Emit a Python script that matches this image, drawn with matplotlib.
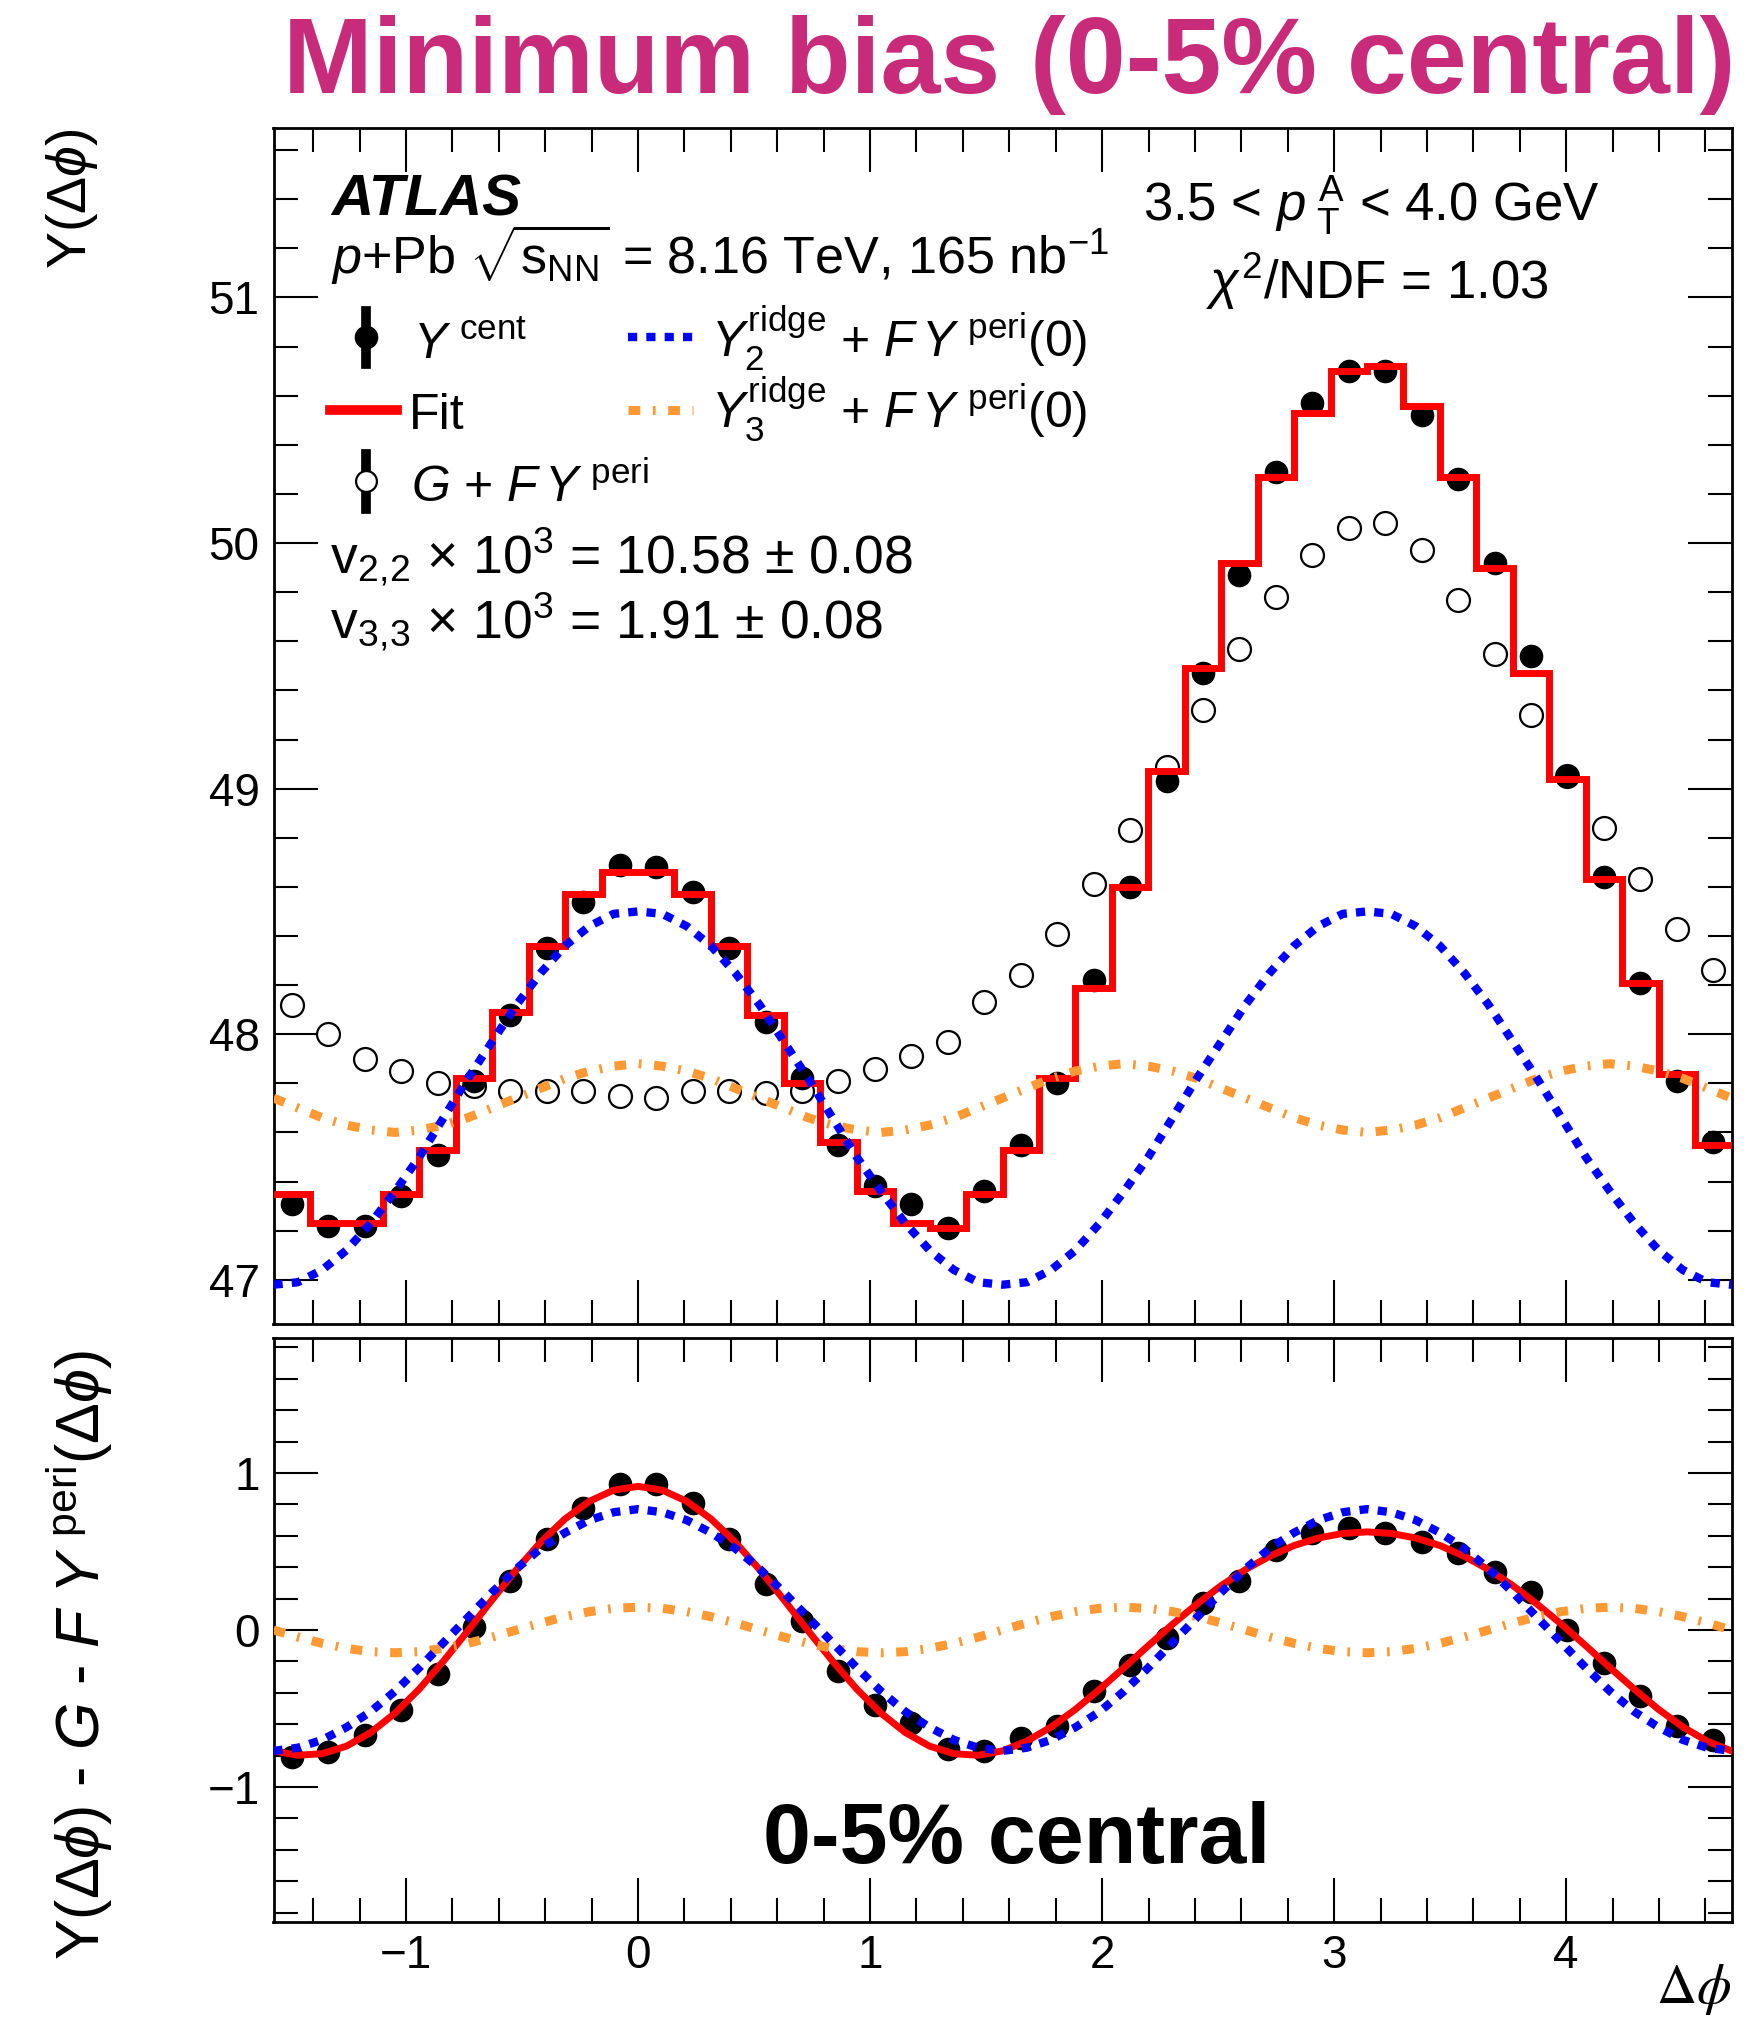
import numpy as np
import matplotlib
matplotlib.use("Agg")
import matplotlib.pyplot as plt
from matplotlib.lines import Line2D
from matplotlib.ticker import MultipleLocator

plt.rcParams['font.family'] = ['Liberation Sans', 'DejaVu Sans']
plt.rcParams['mathtext.fontset'] = 'custom'
plt.rcParams['mathtext.rm'] = 'Liberation Sans'
plt.rcParams['mathtext.it'] = 'Liberation Sans:italic'
plt.rcParams['mathtext.bf'] = 'Liberation Sans:bold'
plt.rcParams['mathtext.sf'] = 'Liberation Sans'

# --- data ---
# 40 bins in dphi from -pi/2 to 3pi/2
y_cent = [47.31, 47.22, 47.22, 47.34, 47.51, 47.81, 48.08, 48.35, 48.54, 48.69,
          48.68, 48.58, 48.35, 48.05, 47.82, 47.55, 47.38, 47.31, 47.21, 47.36,
          47.55, 47.80, 48.22, 48.60, 49.03, 49.47, 49.87, 50.29, 50.57, 50.70,
          50.70, 50.52, 50.26, 49.92, 49.54, 49.05, 48.64, 48.21, 47.81, 47.56]
g_fy_peri = [48.12, 48.00, 47.90, 47.85, 47.80, 47.79, 47.77, 47.77, 47.77, 47.75,
             47.74, 47.77, 47.77, 47.76, 47.77, 47.81, 47.86, 47.91, 47.97, 48.13,
             48.24, 48.41, 48.61, 48.83, 49.09, 49.32, 49.57, 49.78, 49.95, 50.06,
             50.08, 49.97, 49.77, 49.55, 49.30, 49.05, 48.84, 48.63, 48.43, 48.26]
fit_hist = [47.35, 47.23, 47.23, 47.35, 47.53, 47.82, 48.09, 48.36, 48.57, 48.66,
            48.66, 48.57, 48.36, 48.08, 47.80, 47.56, 47.36, 47.23, 47.21, 47.35,
            47.53, 47.82, 48.19, 48.60, 49.07, 49.49, 49.92, 50.27, 50.53, 50.70,
            50.72, 50.56, 50.27, 49.90, 49.47, 49.04, 48.63, 48.21, 47.84, 47.55]
y_sub = [-0.81, -0.78, -0.67, -0.51, -0.28, 0.02, 0.31, 0.58, 0.78, 0.93,
         0.93, 0.81, 0.58, 0.29, 0.06, -0.26, -0.48, -0.59, -0.76, -0.77,
         -0.69, -0.61, -0.39, -0.22, -0.05, 0.17, 0.31, 0.51, 0.62, 0.65,
         0.62, 0.56, 0.49, 0.37, 0.24, 0.00, -0.21, -0.42, -0.61, -0.70]

# curves sampled every pi/30 from -pi/2 to 3pi/2 (61 points)
ridge2_top = [46.98, 46.99, 47.04, 47.12, 47.23, 47.36, 47.50, 47.66, 47.82, 47.97,
              48.12, 48.25, 48.36, 48.44, 48.49, 48.50, 48.49, 48.44, 48.36, 48.25,
              48.12, 47.97, 47.82, 47.66, 47.50, 47.36, 47.23, 47.12, 47.04, 46.99,
              46.98, 46.99, 47.04, 47.12, 47.23, 47.36, 47.50, 47.66, 47.82, 47.97,
              48.12, 48.25, 48.36, 48.44, 48.49, 48.50, 48.49, 48.44, 48.36, 48.25,
              48.12, 47.97, 47.82, 47.66, 47.50, 47.36, 47.23, 47.12, 47.04, 46.99,
              46.98]
ridge3_top = [47.74, 47.70, 47.66, 47.63, 47.61, 47.60, 47.61, 47.63, 47.66, 47.70,
              47.74, 47.78, 47.82, 47.85, 47.87, 47.88, 47.87, 47.85, 47.82, 47.78,
              47.74, 47.70, 47.66, 47.63, 47.61, 47.60, 47.61, 47.63, 47.66, 47.70,
              47.74, 47.78, 47.82, 47.85, 47.87, 47.88, 47.87, 47.85, 47.82, 47.78,
              47.74, 47.70, 47.66, 47.63, 47.61, 47.60, 47.61, 47.63, 47.66, 47.70,
              47.74, 47.78, 47.82, 47.85, 47.87, 47.88, 47.87, 47.85, 47.82, 47.78,
              47.74]
ridge2_bot = [-0.77, -0.75, -0.70, -0.62, -0.52, -0.39, -0.24, -0.08, 0.08, 0.24,
              0.39, 0.52, 0.62, 0.70, 0.75, 0.77, 0.75, 0.70, 0.62, 0.52,
              0.39, 0.24, 0.08, -0.08, -0.24, -0.39, -0.52, -0.62, -0.70, -0.75,
              -0.77, -0.75, -0.70, -0.62, -0.52, -0.39, -0.24, -0.08, 0.08, 0.24,
              0.39, 0.52, 0.62, 0.70, 0.75, 0.77, 0.75, 0.70, 0.62, 0.52,
              0.39, 0.24, 0.08, -0.08, -0.24, -0.39, -0.52, -0.62, -0.70, -0.75,
              -0.77]
ridge3_bot = [0.000, -0.045, -0.085, -0.117, -0.138, -0.145, -0.138, -0.117, -0.085, -0.045,
              0.000, 0.045, 0.085, 0.117, 0.138, 0.145, 0.138, 0.117, 0.085, 0.045,
              0.000, -0.045, -0.085, -0.117, -0.138, -0.145, -0.138, -0.117, -0.085, -0.045,
              0.000, 0.045, 0.085, 0.117, 0.138, 0.145, 0.138, 0.117, 0.085, 0.045,
              0.000, -0.045, -0.085, -0.117, -0.138, -0.145, -0.138, -0.117, -0.085, -0.045,
              0.000, 0.045, 0.085, 0.117, 0.138, 0.145, 0.138, 0.117, 0.085, 0.045,
              0.000]
fit_bot = [-0.770, -0.798, -0.788, -0.740, -0.653, -0.530, -0.376, -0.197, -0.005, 0.193,
           0.385, 0.560, 0.708, 0.820, 0.891, 0.915, 0.891, 0.820, 0.708, 0.560,
           0.385, 0.193, -0.005, -0.197, -0.376, -0.530, -0.653, -0.740, -0.788, -0.798,
           -0.770, -0.708, -0.618, -0.506, -0.377, -0.240, -0.100, 0.037, 0.165, 0.283,
           0.385, 0.470, 0.538, 0.586, 0.615, 0.625, 0.615, 0.586, 0.538, 0.470,
           0.385, 0.283, 0.165, 0.037, -0.100, -0.240, -0.377, -0.506, -0.618, -0.708,
           -0.770]

edges = np.linspace(-np.pi / 2, 3 * np.pi / 2, 41)
centers = 0.5 * (edges[1:] + edges[:-1])
xc = np.linspace(-np.pi / 2, 3 * np.pi / 2, 61)

RED = '#ff0000'
BLUE = '#0000ff'
ORANGE = '#ff9933'
PINK = '#c92b7b'
blue_ls = (0, (1.1, 1.1))
orange_ls = (0, (1.3, 1.4, 0.3, 1.4))

W, H = 1747, 2017
fig = plt.figure(figsize=(W / 100, H / 100), dpi=100)


def fx(x):
    return x / W


def fy(y):
    return 1 - y / H


ax1 = fig.add_axes([fx(273.5), fy(1324), (1731.5 - 273.5) / W, (1324 - 128) / H])
ax2 = fig.add_axes([fx(273.5), fy(1922), (1731.5 - 273.5) / W, (1922 - 1338) / H])

# top panel
ax1.plot(centers, g_fy_peri, 'o', ms=16.5, mfc='none', mec='k', mew=1.6, zorder=3)
ax1.plot(centers, y_cent, 'o', ms=16, color='k', zorder=4)
ax1.stairs(fit_hist, edges, baseline=None, color=RED, lw=5, zorder=5)
ax1.plot(xc, ridge3_top, color=ORANGE, lw=6.5, ls=orange_ls, dash_capstyle='butt', zorder=6)
ax1.plot(xc, ridge2_top, color=BLUE, lw=6, ls=blue_ls, dash_capstyle='butt', zorder=7)
ax1.set_ylim(46.82, 51.69)

# bottom panel
ax2.plot(centers, y_sub, 'o', ms=16, color='k', zorder=4)
ax2.plot(xc, fit_bot, color=RED, lw=5, zorder=5)
ax2.plot(xc, ridge3_bot, color=ORANGE, lw=6.5, ls=orange_ls, dash_capstyle='butt', zorder=6)
ax2.plot(xc, ridge2_bot, color=BLUE, lw=6, ls=blue_ls, dash_capstyle='butt', zorder=7)
ax2.set_ylim(-1.86, 1.86)

for ax in (ax1, ax2):
    ax.set_xlim(-np.pi / 2, 3 * np.pi / 2)
    ax.xaxis.set_major_locator(MultipleLocator(1))
    ax.xaxis.set_minor_locator(MultipleLocator(0.2))
    ax.yaxis.set_major_locator(MultipleLocator(1))
    ax.yaxis.set_minor_locator(MultipleLocator(0.2))
    ax.tick_params(which='both', direction='in', top=True, right=True, width=1.5,
                   labelsize=33)
    ax.tick_params(which='major', length=32)
    ax.tick_params(which='minor', length=17)
    ax.tick_params(axis='y', pad=10)
    ax.tick_params(axis='x', pad=9)
    for s in ax.spines.values():
        s.set_linewidth(2)
ax1.tick_params(labelbottom=False)

# axis titles
fig.text(fx(72), fy(129), r'Y$(\Delta\phi)$', rotation=90, ha='center', va='top', fontsize=40)
fig.text(fx(80), fy(1350),
         r'Y$(\Delta\phi)$ - $G$ - $F\ Y^{\ \rm peri}(\Delta\phi)$',
         rotation=90, ha='center', va='top', fontsize=44)
fig.text(fx(1731), fy(2003), r'$\Delta\phi$', ha='right', va='baseline', fontsize=40,
         math_fontfamily='stix')

# title
fig.text(fx(283), fy(93), 'Minimum bias (0-5% central)', color=PINK, fontsize=77.5,
         fontweight='bold', ha='left', va='baseline')

# annotations
fig.text(fx(331), fy(215), 'ATLAS', fontsize=42, fontweight='bold', fontstyle='italic',
         va='baseline')
fig.text(fx(331), fy(274), r'$p$+Pb $\sqrt{{\rm s}_{\rm NN}}$ = 8.16 TeV, 165 nb$^{-1}$',
         fontsize=37.5, va='baseline')
fig.text(fx(1371), fy(221), r'3.5 < $p_{\ \rm T}^{\ \rm A}$ < 4.0 GeV', fontsize=38,
         ha='center', va='baseline')
fig.text(fx(1377), fy(299), r'$\chi^{2}$/NDF = 1.03', fontsize=38,
         ha='center', va='baseline')
fig.text(fx(330), fy(573), r'v$_{2,\!2}$ × 10$^{3}$ = 10.58 ± 0.08', fontsize=38.5, va='baseline')
fig.text(fx(330), fy(638), r'v$_{3,\!3}$ × 10$^{3}$ = 1.91 ± 0.08', fontsize=38.5, va='baseline')
fig.text(fx(1017), fy(1863), '0-5% central', fontsize=62, fontweight='bold',
         ha='center', va='baseline')

# legend
tf = fig.transFigure
fig.add_artist(Line2D([fx(366)] * 2, [fy(311), fy(364)], color='k', lw=7, transform=tf))
fig.add_artist(Line2D([fx(366)], [fy(337.5)], marker='o', ms=16, color='k', transform=tf))
fig.add_artist(Line2D([fx(366)] * 2, [fy(454), fy(509)], color='k', lw=7, transform=tf))
fig.add_artist(Line2D([fx(366)], [fy(481)], marker='o', ms=15, mfc='white', mec='k',
                      mew=1.6, transform=tf))
fig.add_artist(Line2D([fx(330), fx(397)], [fy(409.5)] * 2, color=RED, lw=7, transform=tf))
fig.add_artist(Line2D([fx(628), fx(693)], [fy(337.5)] * 2, color=BLUE, lw=6, ls=blue_ls,
                      dash_capstyle='butt', transform=tf))
fig.add_artist(Line2D([fx(628), fx(693)], [fy(409.5)] * 2, color=ORANGE, lw=6.5, ls=orange_ls,
                      dash_capstyle='butt', transform=tf))
fig.text(fx(413), fy(358), r'$Y^{\ \rm cent}$', fontsize=36, va='baseline')
fig.text(fx(409), fy(429), 'Fit', fontsize=36, va='baseline')
fig.text(fx(411), fy(502), r'$G$ + $F\,Y^{\ \rm peri}$', fontsize=36, va='baseline')
fig.text(fx(711), fy(358), r'$Y_{2}^{\rm ridge}$ + $F\,Y^{\ \rm peri}(0)$', fontsize=36,
         va='baseline')
fig.text(fx(711), fy(429), r'$Y_{3}^{\rm ridge}$ + $F\,Y^{\ \rm peri}(0)$', fontsize=36,
         va='baseline')

fig.savefig('out.png', dpi=100)
